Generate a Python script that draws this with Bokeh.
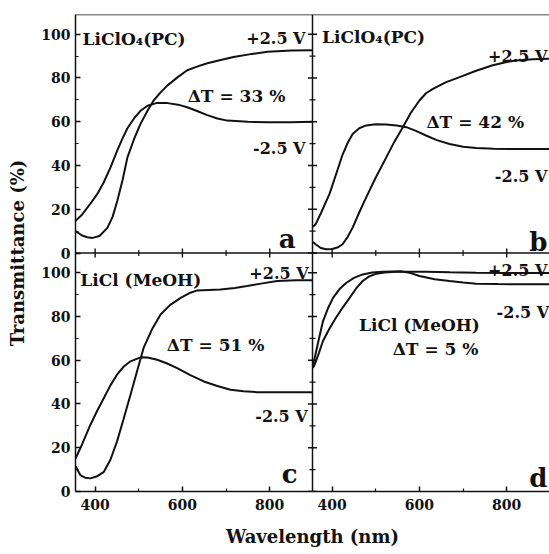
import math
from bokeh.plotting import figure
from bokeh.models import Range1d, FixedTicker, Span
from bokeh.core.properties import value
from bokeh.embed import file_html
from bokeh.resources import INLINE

FONT = "DejaVu Serif"
INK = "#111111"

# ---------------- data (wavelength nm, transmittance %) ----------------
# panel a : LiClO4 (PC)
a_neg_wl = [355, 370, 389, 405, 419, 435, 451, 463, 474, 489, 504, 520, 540, 566, 590, 611, 635, 657, 680, 703, 750, 795, 850, 898]
a_neg_t = [14.7, 17.5, 22.5, 27, 32, 39, 47, 52.5, 57, 61.5, 65, 67.3, 68.5, 68.5, 67.8, 66.6, 64.8, 63, 61.5, 60.5, 60, 59.7, 59.8, 60]
a_pos_wl = [355, 370, 382, 394, 410, 428, 440, 451, 463, 474, 489, 504, 520, 534, 550, 566, 590, 611, 635, 657, 690, 717, 760, 795, 850, 898]
a_pos_t = [10, 8, 7.2, 6.9, 7.8, 11.5, 16.5, 24, 33.5, 43.7, 52, 59, 65, 69.7, 73.4, 76.6, 80.5, 83.5, 85.3, 86.7, 88.3, 89.6, 91, 92, 92.6, 92.7]

# panel b : LiClO4 (PC)
b_neg_wl = [356, 362, 375, 385, 394, 409, 424, 436, 447, 462, 478, 500, 524, 548, 570, 592, 615, 640, 669, 700, 730, 770, 806, 850, 898]
b_neg_t = [12, 13.1, 18.5, 23, 27, 36, 45, 50.5, 54.4, 57, 58.3, 58.8, 58.7, 58.3, 57.5, 55.8, 53.7, 51.6, 49.8, 48.6, 48, 47.6, 47.5, 47.5, 47.5]
b_pos_wl = [356, 362, 374, 386, 400, 412, 424, 436, 447, 462, 478, 500, 524, 543, 562, 580, 600, 615, 631, 660, 692, 730, 768, 800, 821, 860, 898]
b_pos_t = [5, 4, 2.3, 1.7, 1.8, 2.5, 4, 7.5, 11.6, 18.5, 25.4, 34.5, 43.7, 51, 57.5, 64, 69.7, 73, 75, 78, 80.4, 83.3, 85.8, 87.3, 88, 88.6, 88.8]

# panel c : LiCl (MeOH)
c_neg_wl = [355, 370, 389, 405, 420, 435, 450, 465, 481, 504, 520, 542, 565, 588, 618, 649, 680, 710, 740, 771, 830, 898]
c_neg_t = [15.1, 21.5, 30.4, 37, 42.7, 48.5, 53.4, 57, 59.5, 61.3, 61.2, 60.2, 58.5, 56.4, 53.2, 50.3, 48.2, 46.5, 45.8, 45.4, 45.4, 45.4]
c_pos_wl = [355, 366, 377, 389, 405, 420, 435, 450, 465, 481, 496, 511, 530, 550, 572, 596, 615, 634, 660, 687, 720, 748, 780, 817, 860, 898]
c_pos_t = [11.5, 7.5, 6.3, 6, 7, 9, 14.5, 22.8, 33, 44.2, 55, 65.6, 74, 80.9, 85.3, 88.5, 90.6, 91.9, 92.1, 92.3, 93, 93.9, 95, 96.2, 96.5, 96.6]

# panel d : LiCl (MeOH)
d_neg_wl = [356, 360, 370, 379, 390, 402, 417, 432, 450, 470, 492, 516, 540, 557, 580, 600, 635, 669, 700, 730, 780, 840, 898]
d_neg_t = [58, 61, 70, 77.8, 83.5, 88.5, 92.5, 95.3, 97.6, 99.2, 100.1, 100.4, 100.6, 100.7, 99.8, 98.5, 97, 96.2, 95.5, 95, 94.8, 94.7, 94.7]
d_pos_wl = [356, 360, 370, 379, 394, 409, 425, 440, 455, 470, 485, 501, 520, 547, 580, 615, 670, 730, 800, 898]
d_pos_t = [56.5, 58, 63.5, 68.8, 74.5, 79.5, 84.3, 88.5, 92.8, 96.2, 98.3, 99.5, 100.1, 100.4, 100.4, 100.4, 100.2, 100, 99.9, 99.9]

x_ticks = [400, 600, 800]
x_minor = [500, 700]
y_ticks = [0, 20, 40, 60, 80, 100]
y_minor = [10, 30, 50, 70, 90]

electrolyte_1 = "LiClO\u2084(PC)"
electrolyte_2 = "LiCl (MeOH)"
v_pos = "+2.5 V"
v_neg = "-2.5 V"
dT_a, dT_b, dT_c, dT_d = "\u0394T = 33 %", "\u0394T = 42 %", "\u0394T = 51 %", "\u0394T = 5 %"
x_title = "Wavelength (nm)"
y_title = "Transmittance (%)"

# ---------------- one frame holding a 2 x 2 grid of panels ----------------
X0, X1 = 355, 898
Y0, Y1 = 0, 109
XS = X1 - X0
YS = Y1 - Y0

p = figure(width=549, height=554,
           x_range=Range1d(X0, X1 + XS),          # left column panels
           y_range=Range1d(Y0, Y1 + YS),          # bottom row panels
           output_backend="svg", toolbar_location=None,
           min_border_left=75, min_border_right=0, min_border_top=14, min_border_bottom=63)
p.extra_x_ranges = {"right": Range1d(X0 - XS, X1)}   # right column panels
p.extra_y_ranges = {"top": Range1d(Y0 - YS, Y1)}      # top row panels

p.grid.visible = False
p.background_fill_color = "white"
p.border_fill_color = "white"
p.outline_line_color = None

xt = x_ticks + [t + XS for t in x_ticks]
xm = x_minor + [t + XS for t in x_minor]
yt = y_ticks + [t + YS for t in y_ticks]
ym = y_minor + [t + YS for t in y_minor]
p.xaxis.ticker = FixedTicker(ticks=xt, minor_ticks=xm)
p.yaxis.ticker = FixedTicker(ticks=yt, minor_ticks=ym)
p.xaxis.major_label_overrides = {t + XS: str(t) for t in x_ticks}
p.yaxis.major_label_overrides = {t + YS: str(t) for t in y_ticks}

for ax in (p.xaxis[0], p.yaxis[0]):
    ax.axis_line_color = INK
    ax.axis_line_width = 1.5
    ax.major_tick_in = 5
    ax.major_tick_out = 0
    ax.minor_tick_in = 3
    ax.minor_tick_out = 0
    ax.major_tick_line_color = INK
    ax.minor_tick_line_color = INK
    ax.major_tick_line_width = 1.5
    ax.minor_tick_line_width = 1.2
    ax.major_label_text_font = FONT
    ax.major_label_text_font_style = "bold"
    ax.major_label_text_font_size = "14px"
    ax.major_label_text_color = INK
    ax.axis_label_text_font = FONT
    ax.axis_label_text_font_style = "bold"
    ax.axis_label_text_font_size = "18px"
    ax.axis_label_text_color = INK

p.xaxis.major_label_standoff = 7
p.xaxis.axis_label_standoff = 13
p.yaxis.major_label_standoff = 5
p.yaxis.axis_label_standoff = 10
p.xaxis.axis_label = x_title
p.yaxis.axis_label = y_title

# top border and panel dividers
p.add_layout(Span(location=Y1 + YS, dimension="width", line_color=INK, line_width=1.5))
p.add_layout(Span(location=X1, dimension="height", line_color=INK, line_width=1.5))
p.add_layout(Span(location=Y1, dimension="width", line_color=INK, line_width=1.5))

# tick marks of the inner panel edges (same tick values as the outer axes)
for xr in ("default", "right"):
    p.scatter(x=x_ticks, y=[Y1] * len(x_ticks), marker="dash", angle=math.pi / 2, size=9,
              line_color=INK, line_width=1.4, x_range_name=xr)
    p.scatter(x=x_minor, y=[Y1] * len(x_minor), marker="dash", angle=math.pi / 2, size=6,
              line_color=INK, line_width=1.2, x_range_name=xr)
for yr in ("default", "top"):
    p.scatter(x=[X1] * len(y_ticks), y=y_ticks, marker="dash", size=9,
              line_color=INK, line_width=1.4, y_range_name=yr)
    p.scatter(x=[X1] * len(y_minor), y=y_minor, marker="dash", size=6,
              line_color=INK, line_width=1.2, y_range_name=yr)

panels = {
    "a": dict(xr="default", yr="top", neg=(a_neg_wl, a_neg_t), pos=(a_pos_wl, a_pos_t)),
    "b": dict(xr="right", yr="top", neg=(b_neg_wl, b_neg_t), pos=(b_pos_wl, b_pos_t)),
    "c": dict(xr="default", yr="default", neg=(c_neg_wl, c_neg_t), pos=(c_pos_wl, c_pos_t)),
    "d": dict(xr="right", yr="default", neg=(d_neg_wl, d_neg_t), pos=(d_pos_wl, d_pos_t)),
}

for key, cfg in panels.items():
    for wl, t in (cfg["neg"], cfg["pos"]):
        p.line(wl, t, line_color=INK, line_width=2,
               x_range_name=cfg["xr"], y_range_name=cfg["yr"])


def txt(key, x, y, s, align, size="16px"):
    cfg = panels[key]
    p.text(x=[x], y=[y], text=[s], text_font=value(FONT), text_font_style="bold",
           text_font_size=size, text_align=align, text_baseline="alphabetic",
           text_color=INK, x_range_name=cfg["xr"], y_range_name=cfg["yr"])


BIG = "26px"
MID = "17px"
# panel a
txt("a", 371, 98, electrolyte_1, "left", MID)
txt("a", 882, 98, v_pos, "right")
txt("a", 612, 71.6, dT_a, "left", MID)
txt("a", 882, 47.7, v_neg, "right")
txt("a", 859, 6.4, "a", "right", BIG)
# panel b
txt("b", 377, 98.6, electrolyte_1, "left", MID)
txt("b", 893, 90, v_pos, "right")
txt("b", 616, 60, dT_b, "left", MID)
txt("b", 893, 35, v_neg, "right")
txt("b", 893, 5, "b", "right", BIG)
# panel c
txt("c", 366, 96.8, electrolyte_2, "left", MID)
txt("c", 889, 99.5, v_pos, "right")
txt("c", 564, 67, dT_c, "left", MID)
txt("c", 887, 34.4, v_neg, "right")
txt("c", 864, 7.8, "c", "right", BIG)
# panel d
txt("d", 893, 101, v_pos, "right")
txt("d", 897, 81.6, v_neg, "right")
txt("d", 600, 76, electrolyte_2, "center", MID)
txt("d", 637, 65, dT_d, "center", MID)
txt("d", 893, 6, "d", "right", BIG)

open("out.html", "w").write(file_html(p, INLINE))
